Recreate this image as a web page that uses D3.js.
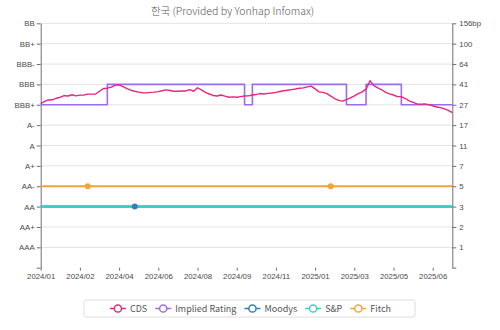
<!DOCTYPE html>
<html>
<head>
<meta charset="utf-8">
<script src="https://cdn.jsdelivr.net/npm/d3@7"></script>
<style>
  html, body { margin: 0; padding: 0; background: #fff; }
  svg { display: block; font-family: "Noto Sans CJK KR", "Noto Sans", sans-serif; }
</style>
</head>
<body>
<svg id="chart" width="500" height="330"></svg>
<script>
// Rating rows, top to bottom (empty row at the base of the axis)
const ratingRows = ["BB", "BB+", "BBB-", "BBB", "BBB+", "A-", "A", "A+", "AA-", "AA", "AA+", "AAA", ""];
// CDS axis values aligned with the rating rows, bottom to top
const cdsTickValues = [0, 1, 2, 3, 5, 7, 11, 17, 27, 41, 64, 100, 156];
// Date labels shown every 10 observations
const xTickLabels = ["2024/01", "2024/02", "2024/04", "2024/06", "2024/08", "2024/09",
                     "2024/11", "2025/01", "2025/03", "2025/05", "2025/06"];
const xLabelEvery = 10;

// 5-year CDS spread (bp), one value per observation
const cds = [
  27.8, 29.3, 30.3, 30.4, 31.5, 32.2, 33.3, 33.0, 33.9, 33.1,
  33.6, 33.6, 34.3, 34.3, 34.4, 36.3, 38.2, 38.4, 39.1, 40.5,
  40.7, 39.4, 38.1, 37.0, 36.3, 35.7, 35.3, 35.2, 35.5, 35.7,
  36.0, 36.6, 37.2, 36.8, 36.3, 36.3, 36.5, 36.5, 37.4, 36.3,
  38.7, 37.2, 35.5, 34.4, 33.4, 33.0, 33.7, 32.9, 32.2, 32.4,
  32.2, 32.6, 33.0, 33.1, 33.7, 34.1, 34.7, 34.4, 34.8, 35.1,
  35.5, 36.1, 36.6, 37.0, 37.4, 37.8, 38.4, 38.6, 39.3, 39.8,
  37.9, 35.9, 35.5, 34.6, 32.9, 31.3, 30.0, 29.5, 30.6, 31.7,
  33.1, 34.6, 35.9, 37.7, 45.2, 40.1, 38.6, 37.3, 35.5, 34.5,
  33.7, 32.6, 32.6, 31.3, 29.7, 28.7, 27.6, 27.4, 27.6, 27.1,
  26.5, 25.9, 25.6, 25.0, 24.2, 23.1
];

// Ratings as runs of [rating, number of observations]
const impliedRuns = [["BBB+", 17], ["BBB", 35], ["BBB+", 2], ["BBB", 24], ["BBB+", 5], ["BBB", 9], ["BBB+", 14]];
const moodysRuns = [["AA", 106]];
const spRuns = [["AA", 106]];
const fitchRuns = [["AA-", 106]];
// Observations where an agency action is marked
const moodysEvents = [24];
const spEvents = [];
const fitchEvents = [12, 74];

const colors = {
  cds: "#e8257c",
  implied: "#9b6cf0",
  moodys: "#2f7fb8",
  sp: "#3ccfc6",
  fitch: "#f2a534"
};

const svg = d3.select("#chart");
const plot = { left: 40.7, right: 452.3, top: 23.3, bottom: 267.7 };
const axisColor = "#6e7079";
const labelColor = "#4a4a4a";

const x = d3.scaleLinear().domain([0, cds.length - 1]).range([plot.left, plot.right]);
const yRating = d3.scalePoint().domain(ratingRows).range([plot.top, plot.bottom]);
const yCds = d3.scaleLinear()
  .domain(cdsTickValues)
  .range(cdsTickValues.map((_, k) => yRating(ratingRows[ratingRows.length - 1 - k])));

function expandRuns(runs) {
  const out = [];
  runs.forEach(([r, n]) => { for (let k = 0; k < n; k++) out.push(r); });
  return out;
}

// Horizontal grid lines
svg.append("g").selectAll("line")
  .data(ratingRows.slice(0, -1))
  .join("line")
  .attr("x1", plot.left).attr("x2", plot.right)
  .attr("y1", d => yRating(d)).attr("y2", d => yRating(d))
  .attr("stroke", "#e3e3e3").attr("stroke-width", 1);

// Left rating axis
const leftAxis = svg.append("g")
  .attr("transform", `translate(${plot.left},0)`)
  .call(d3.axisLeft(yRating).tickSize(4).tickSizeOuter(0).tickPadding(2));
// Right CDS axis
const rightAxis = svg.append("g")
  .attr("transform", `translate(${plot.right},0)`)
  .call(d3.axisRight(yCds).tickValues(cdsTickValues)
    .tickFormat(v => v === 0 ? "" : (v === 156 ? v + "bp" : v))
    .tickSize(4).tickSizeOuter(0).tickPadding(3));
// Bottom date axis (ticks only)
const xTickIdx = xTickLabels.map((_, k) => k * xLabelEvery);
const bottomAxis = svg.append("g")
  .attr("transform", `translate(0,${plot.bottom})`)
  .call(d3.axisBottom(x).tickValues(xTickIdx)
    .tickFormat((d, k) => xTickLabels[k])
    .tickSize(3).tickSizeOuter(0).tickPadding(3));
bottomAxis.select(".domain").remove();

[leftAxis, rightAxis, bottomAxis].forEach(g => {
  g.selectAll(".domain").attr("stroke", axisColor).attr("stroke-width", 1);
  g.selectAll(".tick line").attr("stroke", axisColor);
  g.selectAll(".tick text").attr("fill", labelColor).style("font-size", "7.8px");
});

// Agency and implied rating lines
function ratingLine(runs, color, width) {
  const vals = expandRuns(runs);
  const line = d3.line()
    .x((d, i) => x(i))
    .y(d => yRating(d))
    .curve(d3.curveStepAfter);
  svg.append("path")
    .datum(vals)
    .attr("d", line)
    .attr("fill", "none")
    .attr("stroke", color)
    .attr("stroke-width", width)
    .attr("stroke-linejoin", "round");
  return vals;
}
ratingLine(impliedRuns, colors.implied, 1.6);
const moodysVals = ratingLine(moodysRuns, colors.moodys, 2);
const spVals = ratingLine(spRuns, colors.sp, 2.6);
const fitchVals = ratingLine(fitchRuns, colors.fitch, 2);

// CDS line
svg.append("path")
  .datum(cds)
  .attr("d", d3.line().x((d, i) => x(i)).y(d => yCds(d)))
  .attr("fill", "none")
  .attr("stroke", colors.cds)
  .attr("stroke-width", 1.4)
  .attr("stroke-linejoin", "round");

// Event markers
function markers(events, vals, color) {
  svg.append("g").selectAll("circle")
    .data(events)
    .join("circle")
    .attr("cx", i => x(i))
    .attr("cy", i => yRating(vals[i]))
    .attr("r", 3)
    .attr("fill", color);
}
markers(moodysEvents, moodysVals, colors.moodys);
markers(spEvents, spVals, colors.sp);
markers(fitchEvents, fitchVals, colors.fitch);

// Title
svg.append("text")
  .attr("x", 232.5).attr("y", 14.5)
  .attr("text-anchor", "middle")
  .attr("fill", "#555")
  .style("font-size", "10.5px")
  .style("font-weight", 300)
  .text("한국 (Provided by Yonhap Infomax)");

// Legend
const legendItems = [
  { name: "CDS", color: colors.cds },
  { name: "Implied Rating", color: colors.implied },
  { name: "Moodys", color: colors.moodys },
  { name: "S&P", color: colors.sp },
  { name: "Fitch", color: colors.fitch }
];
svg.append("rect")
  .attr("x", 84).attr("y", 300).attr("width", 331).attr("height", 17)
  .attr("rx", 2)
  .attr("fill", "#fff").attr("stroke", "#dedede").attr("stroke-width", 1);
const legend = svg.append("g");
const cy = 308.5;
let cursor = 0;
const iconW = 16, iconGap = 4, itemGap = 8;
legendItems.forEach(item => {
  const g = legend.append("g").attr("transform", `translate(${cursor},0)`);
  g.append("line")
    .attr("x1", 0).attr("x2", iconW).attr("y1", cy).attr("y2", cy)
    .attr("stroke", item.color).attr("stroke-width", 1.5);
  g.append("circle")
    .attr("cx", iconW / 2).attr("cy", cy).attr("r", 3.6)
    .attr("fill", "#fff").attr("stroke", item.color).attr("stroke-width", 1.5);
  const t = g.append("text")
    .attr("x", iconW + iconGap).attr("y", cy + 3.2)
    .attr("fill", "#555")
    .style("font-size", "9px")
    .text(item.name);
  cursor += iconW + iconGap + t.node().getComputedTextLength() + itemGap;
});
const legendW = cursor - itemGap;
legend.attr("transform", `translate(${250.5 - legendW / 2},0)`);
</script>
</body>
</html>
